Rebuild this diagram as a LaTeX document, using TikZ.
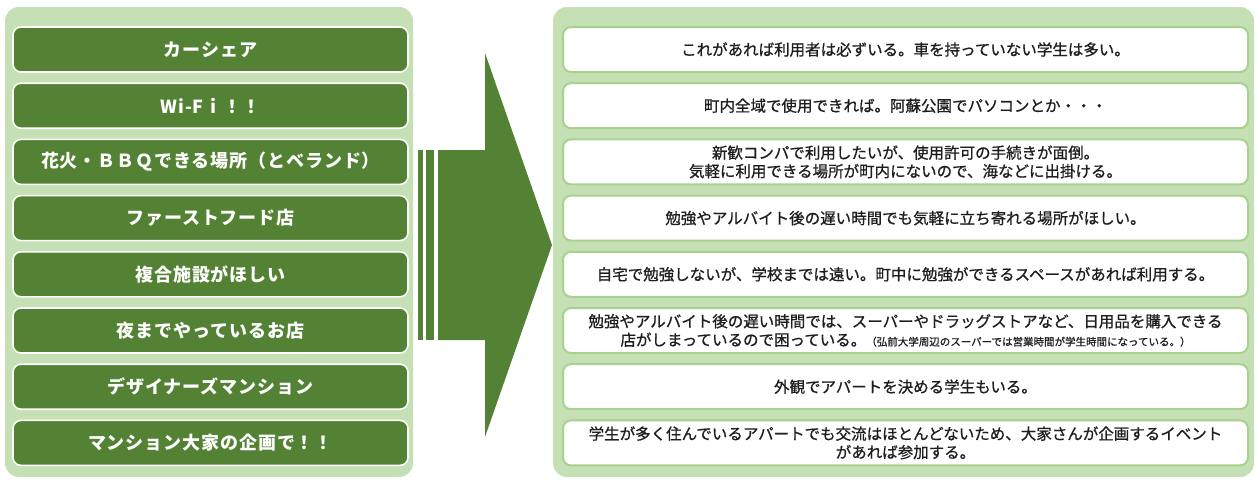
\documentclass[tikz,border=0pt]{standalone}
\usepackage{fontspec}
\setmainfont{Noto Sans CJK JP}
\newfontfamily\wishfont[LetterSpace=5]{Noto Sans CJK JP}
\newfontfamily\voicefont[FakeBold=0.8]{Noto Sans CJK JP}
\usepackage{xcolor}
\usepackage{tikz}
\usetikzlibrary{positioning}
\definecolor{leafgreen}{HTML}{548235}
\definecolor{panelgreen}{HTML}{C5E0B4}
\definecolor{rimgreen}{HTML}{A9D18E}
\definecolor{inkgray}{HTML}{1E1E1E}

\begin{document}
\begin{tikzpicture}[x=1pt,y=-1pt,
  wish/.style={draw=white,line width=1.6pt,fill=leafgreen,rounded corners=8pt,
    minimum width=395pt,minimum height=45pt,text=white,
    font=\wishfont\fontsize{18}{20}\selectfont\bfseries},
  voice/.style={draw=rimgreen,line width=2pt,fill=white,rounded corners=8pt,
    minimum width=685pt,minimum height=45pt,text=inkgray,align=center,
    font=\voicefont\fontsize{15.5}{18.5}\selectfont}]
  \useasboundingbox (0,0) rectangle (1255,479);
  \fill[panelgreen,rounded corners=14pt] (5,7) rectangle (413,477);
  \fill[panelgreen,rounded corners=14pt] (553,7) rectangle (1254,477);
  % big arrow with two bars
  \fill[leafgreen] (438,150) -- (485,150) -- (485,53) -- (552,245)
    -- (485,437) -- (485,340) -- (438,340) -- cycle;
  \fill[leafgreen] (418,150) rectangle (423,340);
  \fill[leafgreen] (426,150) rectangle (434,340);
  % wishes
  \node[wish] (carshare) at (210.5,49.5) {カーシェア};
  \node[wish] (wifi) at (210.5,105.7) {Wi-Fｉ！！};
  \node[wish] (bbq) at (210.5,161.9) {花火・ＢＢＱできる場所（とベランド）};
  \node[wish] (fastfood) at (210.5,218.1) {ファーストフード店};
  \node[wish] (complex) at (210.5,274.3) {複合施設がほしい};
  \node[wish] (night) at (210.5,330.5) {夜までやっているお店};
  \node[wish] (designer) at (210.5,386.7) {デザイナーズマンション};
  \node[wish] (landlord) at (210.5,442.9) {マンション大家の企画で！！};
  % voices
  \node[voice] (carvoice) at (905.5,49.5)
    {これがあれば利用者は必ずいる。車を持っていない学生は多い。};
  \node[voice] (wifivoice) at (905.5,105.7)
    {町内全域で使用できれば。阿蘇公園でパソコンとか・・・};
  \node[voice] (bbqvoice) at (905.5,161.9)
    {新歓コンパで利用したいが、使用許可の手続きが面倒。\\
     気軽に利用できる場所が町内にないので、海などに出掛ける。};
  \node[voice] (foodvoice) at (905.5,218.1)
    {勉強やアルバイト後の遅い時間でも気軽に立ち寄れる場所がほしい。};
  \node[voice] (complexvoice) at (905.5,274.3)
    {自宅で勉強しないが、学校までは遠い。町中に勉強ができるスペースがあれば利用する。};
  \node[voice] (nightvoice) at (905.5,330.5)
    {勉強やアルバイト後の遅い時間では、スーパーやドラッグストアなど、日用品を購入できる\\
     店がしまっているので困っている。{\fontsize{10.5}{12}\selectfont （弘前大学周辺のスーパーでは営業時間が学生時間になっている。）}};
  \node[voice] (designvoice) at (905.5,386.7)
    {外観でアパートを決める学生もいる。};
  \node[voice] (landvoice) at (905.5,442.9)
    {学生が多く住んでいるアパートでも交流はほとんどないため、大家さんが企画するイベント\\
     があれば参加する。};
\end{tikzpicture}
\end{document}
